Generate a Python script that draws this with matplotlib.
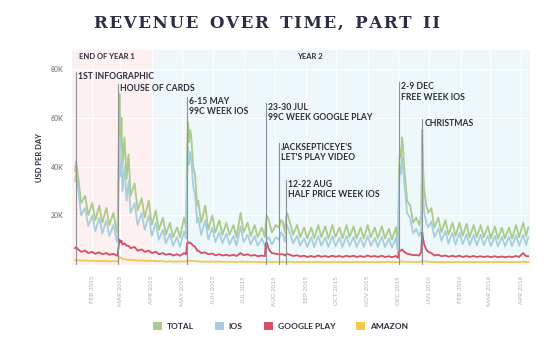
import matplotlib
matplotlib.use("Agg")
import matplotlib.pyplot as plt
from matplotlib.patches import Patch
import numpy as np
import pandas as pd

# ---------------- data (values in thousands of USD per day) ----------------
dates = [
    "2015-01-15", "2015-01-16", "2015-01-18", "2015-01-21", "2015-01-25", "2015-01-28",
    "2015-02-01", "2015-02-04", "2015-02-08", "2015-02-11", "2015-02-15", "2015-02-18",
    "2015-02-22", "2015-02-25", "2015-02-26", "2015-02-28", "2015-03-01", "2015-03-02",
    "2015-03-03", "2015-03-05", "2015-03-07", "2015-03-09", "2015-03-11", "2015-03-15",
    "2015-03-18", "2015-03-22", "2015-03-25", "2015-03-29", "2015-04-01", "2015-04-05",
    "2015-04-08", "2015-04-12", "2015-04-15", "2015-04-19", "2015-04-22", "2015-04-26",
    "2015-04-29", "2015-05-03", "2015-05-05", "2015-05-06", "2015-05-07", "2015-05-08",
    "2015-05-09", "2015-05-10", "2015-05-12", "2015-05-14", "2015-05-16", "2015-05-17",
    "2015-05-20", "2015-05-24", "2015-05-27", "2015-05-31", "2015-06-03", "2015-06-07",
    "2015-06-10", "2015-06-14", "2015-06-17", "2015-06-21", "2015-06-24", "2015-06-28",
    "2015-07-01", "2015-07-05", "2015-07-08", "2015-07-12", "2015-07-15", "2015-07-19",
    "2015-07-22", "2015-07-23", "2015-07-24", "2015-07-26", "2015-07-29", "2015-08-02",
    "2015-08-05", "2015-08-07", "2015-08-09", "2015-08-11", "2015-08-12", "2015-08-13",
    "2015-08-16", "2015-08-19", "2015-08-23", "2015-08-26", "2015-08-30", "2015-09-02",
    "2015-09-06", "2015-09-09", "2015-09-13", "2015-09-16", "2015-09-20", "2015-09-23",
    "2015-09-27", "2015-09-30", "2015-10-04", "2015-10-07", "2015-10-11", "2015-10-14",
    "2015-10-18", "2015-10-21", "2015-10-25", "2015-10-28", "2015-11-01", "2015-11-04",
    "2015-11-08", "2015-11-11", "2015-11-15", "2015-11-18", "2015-11-22", "2015-11-25",
    "2015-11-29", "2015-12-01", "2015-12-02", "2015-12-03", "2015-12-04", "2015-12-05",
    "2015-12-06", "2015-12-07", "2015-12-08", "2015-12-10", "2015-12-13", "2015-12-16",
    "2015-12-19", "2015-12-22", "2015-12-24", "2015-12-25", "2015-12-26", "2015-12-27",
    "2015-12-29", "2015-12-31", "2016-01-03", "2016-01-06", "2016-01-10", "2016-01-13",
    "2016-01-17", "2016-01-20", "2016-01-24", "2016-01-27", "2016-01-31", "2016-02-03",
    "2016-02-07", "2016-02-10", "2016-02-14", "2016-02-17", "2016-02-21", "2016-02-24",
    "2016-02-28", "2016-03-02", "2016-03-06", "2016-03-09", "2016-03-13", "2016-03-16",
    "2016-03-20", "2016-03-23", "2016-03-27", "2016-03-30", "2016-04-03", "2016-04-06",
    "2016-04-08",
]

total = [
    38, 42, 36, 25, 28, 20,
    25, 18, 24, 17, 23, 16,
    21, 14, 13, 70, 48, 60,
    40, 52, 35, 45, 28, 33,
    22, 27, 19, 26, 16, 22,
    14, 19, 12, 17, 11, 15,
    11, 19, 15, 45, 58, 50,
    55, 53, 40, 36, 24, 26,
    17, 24, 14, 20, 13, 18,
    12, 17, 12, 16, 11, 21,
    13, 17, 11.5, 16, 11, 15,
    11, 17, 20, 18, 13, 16,
    15, 18, 17, 13, 19, 21,
    17, 12, 16, 11, 15, 10.5,
    15, 10.5, 16, 11, 15.5, 10.5,
    16, 11, 15, 10.5, 16, 11,
    15.5, 10.5, 15, 10.5, 16, 11,
    15, 10.5, 15.5, 10.5, 14.5, 10,
    15, 7, 38, 47, 44, 52,
    48, 40, 36, 26, 24, 17,
    19, 16, 20, 55, 38, 30,
    24, 21, 23, 15, 19, 13,
    18, 12, 17, 11.5, 17, 11.5,
    16.5, 11, 16, 11, 16, 11,
    15.5, 10.5, 15.5, 10.5, 15, 10.5,
    15, 10.5, 16, 11, 17, 11.5,
    15,
]

ios = [
    34, 37, 31, 20, 23, 15.5,
    20, 13.5, 19, 12.5, 18, 11.5,
    16, 10, 9, 52, 36, 42,
    30, 40, 26, 34, 21, 25,
    16, 21, 14, 20, 11.5, 17,
    10, 14, 8.5, 12.5, 7.5, 11,
    7, 13.5, 10.5, 36, 48, 41,
    46, 44, 32, 28, 17, 19,
    12, 18, 10, 15, 9, 13,
    8.5, 12.5, 8, 11.5, 7.5, 15.5,
    9, 12, 8, 11.5, 7.5, 10.5,
    7.5, 7.5, 10, 11, 8, 11,
    10, 13, 12, 9, 14, 16,
    12.5, 8.5, 11.5, 7.5, 10.5, 7,
    11, 7, 11.5, 7.5, 11, 7,
    11.5, 7.3, 10.8, 7, 11.7, 7.4,
    11.2, 7, 10.8, 7, 11.6, 7.4,
    10.8, 7, 11.2, 7, 10.5, 6.8,
    10.8, 4.5, 32, 40, 37, 44,
    41, 34, 30, 21, 19, 12.5,
    14.5, 11.5, 14, 40, 27, 21,
    17, 15, 17.5, 11, 14.5, 9.5,
    13.5, 8.5, 12.8, 8, 12.8, 8,
    12.3, 7.7, 12, 7.7, 12, 7.7,
    11.6, 7.3, 11.6, 7.3, 11.2, 7.3,
    11.2, 7.3, 11.8, 7.5, 12, 7.8,
    11,
]

google_play = [
    6.5, 7, 6, 5, 5.5, 4.5,
    5, 4.2, 4.8, 4, 4.5, 3.8,
    4.2, 3.5, 3.4, 10, 9, 9.5,
    8, 8.5, 7.5, 7.5, 6.5, 7,
    5.5, 6, 5, 5.5, 4.5, 5,
    4, 4.5, 3.8, 4.2, 3.5, 4,
    3.4, 4.5, 4, 8.5, 9, 8.5,
    8.8, 8.5, 7.5, 7, 5.5, 5.5,
    4.5, 4.8, 4, 4.3, 3.6, 4,
    3.5, 3.8, 3.4, 3.8, 3.3, 4.5,
    3.6, 4, 3.4, 3.7, 3.2, 3.5,
    3.2, 8.5, 8.8, 6, 4.5, 4.2,
    4, 4, 4, 3.5, 4, 4.2,
    3.8, 3.3, 3.6, 3.1, 3.4, 2.9,
    3.3, 2.9, 3.5, 3.0, 3.3, 2.9,
    3.4, 3.0, 3.3, 2.9, 3.4, 3.0,
    3.4, 2.9, 3.3, 2.9, 3.5, 3.0,
    3.3, 2.9, 3.4, 2.9, 3.2, 2.8,
    3.3, 2.6, 5, 5.5, 5.5, 6,
    5.5, 5, 4.8, 4.2, 4.0, 3.6,
    3.7, 3.5, 5, 13, 10, 8,
    6, 5, 4.5, 3.5, 3.8, 3.2,
    3.5, 3.0, 3.4, 3.0, 3.4, 2.9,
    3.3, 2.9, 3.3, 2.9, 3.2, 2.9,
    3.2, 2.8, 3.2, 2.8, 3.1, 2.8,
    3.1, 2.8, 3.3, 2.9, 4.5, 3.2,
    3.2,
]

amazon = [
    1.6, 1.6, 1.5, 1.4, 1.5, 1.3,
    1.4, 1.2, 1.3, 1.2, 1.3, 1.1,
    1.2, 1.1, 1.1, 3, 2.5, 2.5,
    2, 2, 1.8, 1.8, 1.6, 1.6,
    1.4, 1.5, 1.3, 1.4, 1.2, 1.3,
    1.1, 1.2, 1.0, 1.1, 1.0, 1.0,
    1.0, 1.1, 1.0, 1.3, 1.4, 1.3,
    1.3, 1.3, 1.2, 1.2, 1.1, 1.1,
    1.0, 1.0, 0.9, 1.0, 0.9, 1.0,
    0.9, 0.9, 0.9, 0.9, 0.8, 1.0,
    0.9, 0.9, 0.8, 0.9, 0.8, 0.8,
    0.8, 0.8, 0.9, 0.9, 0.8, 0.9,
    0.8, 0.9, 0.9, 0.8, 0.9, 0.9,
    0.9, 0.8, 0.8, 0.8, 0.8, 0.8,
    0.8, 0.8, 0.8, 0.8, 0.8, 0.8,
    0.8, 0.8, 0.8, 0.8, 0.8, 0.8,
    0.8, 0.8, 0.8, 0.8, 0.8, 0.8,
    0.8, 0.8, 0.8, 0.8, 0.8, 0.8,
    0.8, 0.8, 0.9, 1.0, 1.0, 1.0,
    1.0, 0.9, 0.9, 0.9, 0.9, 0.8,
    0.8, 0.8, 0.9, 1.5, 1.2, 1.1,
    1.0, 0.9, 0.9, 0.8, 0.8, 0.8,
    0.8, 0.8, 0.8, 0.8, 0.8, 0.8,
    0.8, 0.8, 0.8, 0.8, 0.8, 0.8,
    0.8, 0.8, 0.8, 0.8, 0.8, 0.8,
    0.8, 0.8, 0.8, 0.8, 0.9, 0.8,
    0.8,
]

series_names = ["TOTAL", "IOS", "GOOGLE PLAY", "AMAZON"]
series_colors = ["#aacb8a", "#a8cedd", "#d64f66", "#f2c94c"]

event_dates = ["2015-01-16", "2015-02-27", "2015-05-06", "2015-07-23",
               "2015-08-05", "2015-08-12", "2015-12-02", "2015-12-25"]
event_labels = ["1ST INFOGRAPHIC", "HOUSE OF CARDS", "6-15 MAY\n99C WEEK IOS",
                "23-30 JUL\n99C WEEK GOOGLE PLAY", "JACKSEPTICEYE'S\nLET'S PLAY VIDEO",
                "12-22 AUG\nHALF PRICE WEEK IOS", "2-9 DEC\nFREE WEEK IOS", "CHRISTMAS"]
event_tops = [79, 74, 68.5, 66, 49.5, 34.5, 74.5, 59.5]   # in K

period_labels = ["END OF YEAR 1", "YEAR 2"]
period_bounds = ["2015-01-12", "2015-04-01", "2016-04-10"]

y_ticks = [20, 40, 60, 80]
y_tick_labels = ["20K", "40K", "60K", "80K"]

title = "REVENUE OVER TIME, PART II"

# ---------------- figure ----------------
plt.rcParams["font.family"] = ["Lato", "DejaVu Sans"]
fig = plt.figure(figsize=(5.5, 3.51), dpi=100)
fig.patch.set_facecolor("white")
ax = fig.add_axes([0.131, 0.245, 0.833, 0.613])

d = pd.to_datetime(dates)
pb = pd.to_datetime(period_bounds)

ax.axvspan(pb[0], pb[1], color="#fdf0f1", zorder=0, lw=0)
ax.axvspan(pb[1], pb[2], color="#eef7fa", zorder=0, lw=0)

# grid
months = pd.date_range("2015-02-01", "2016-04-01", freq="MS")
for m in months:
    ax.axvline(m, color="white", lw=0.8, zorder=1)
for yt in y_ticks:
    ax.axhline(yt * 1000, color="white", lw=0.8, zorder=1)

vals = [total, ios, google_play, amazon]
for i in range(4):
    ax.plot(d, np.array(vals[i]) * 1000, color=series_colors[i], lw=1.3, zorder=3 + i,
            solid_joinstyle="round")

# events
for ed, lab, top in zip(event_dates, event_labels, event_tops):
    x = pd.Timestamp(ed)
    ax.plot([x, x], [-400, top * 1000], color="#8d8f94", lw=0.8, zorder=8)
    ax.text(x + pd.Timedelta(days=2), top * 1000, lab, ha="left", va="top",
            fontsize=6.2, fontweight="bold", color="#2c2e3c", linespacing=1.15, zorder=9)

# period header labels
ax.text(pd.Timestamp("2015-01-19"), 85000, period_labels[0], ha="left", va="center",
        fontsize=5.5, fontweight="bold", color="#2c2e3c")
ax.text(pd.Timestamp("2015-09-05"), 85000, period_labels[1], ha="center", va="center",
        fontsize=5.5, fontweight="bold", color="#2c2e3c")

ax.set_xlim(pb[0], pb[2])
ax.set_ylim(-400, 87900)
ax.set_yticks([v * 1000 for v in y_ticks])
ax.set_yticklabels(y_tick_labels, fontsize=5, color="#888888", fontweight="bold")
ax.set_xticks(months)
ax.set_xticklabels([m.strftime("%b %Y").upper() for m in months], rotation=90,
                   fontsize=4.5, color="#b0b0b0")
ax.tick_params(length=0, pad=8)
ax.tick_params(axis="y", pad=6)
for s in ax.spines.values():
    s.set_visible(False)
ax.set_ylabel("USD PER DAY", fontsize=5.5, fontweight="bold", color="#2c2e3c", labelpad=6)

# title (letter-spaced)
spaced_title = "  ".join("\u200a".join(list(w)) for w in title.split(" "))
fig.text(0.485, 0.935, spaced_title, ha="center", va="center",
         fontsize=12, color="#2b2e40", family=["DejaVu Serif"], fontweight="bold")

# legend
handles = [Patch(facecolor=c, edgecolor="none") for c in series_colors]
fig.legend(handles, series_names, loc="center", bbox_to_anchor=(0.51, 0.072), ncol=4,
           frameon=False, prop={"size": 6, "weight": "bold"}, handlelength=1.1,
           handleheight=1.1, columnspacing=2.5, handletextpad=0.6, labelcolor="#2c2e3c")

fig.savefig("out.png", dpi=100, facecolor="white")
